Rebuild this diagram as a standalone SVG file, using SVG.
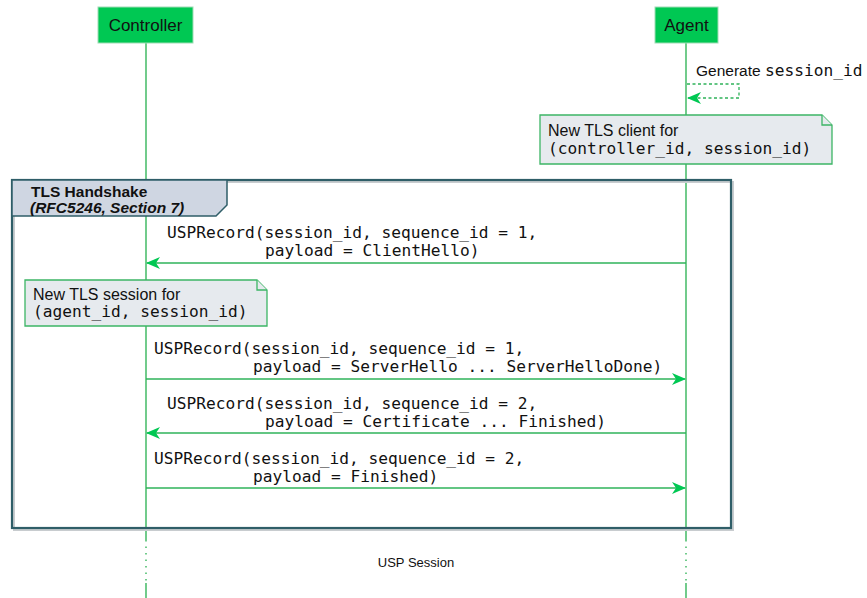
<svg xmlns="http://www.w3.org/2000/svg" width="867" height="598" viewBox="0 0 867 598">
<defs>
<style>
.sans{font-family:"Liberation Sans",Arial,sans-serif;fill:#111}
.mono{font-family:"DejaVu Sans Mono","Liberation Mono",monospace;font-size:16.2px;fill:#111}
.life{stroke:#27b04f;stroke-width:1.3;fill:none}
.msg{stroke:#2fb35a;stroke-width:1.3;fill:none}
.note{fill:#e6eaee;stroke:#3cb565;stroke-width:1.3}
.actor{fill:#00c853;stroke:#9fdcb5;stroke-width:1}
</style>
<marker id="ah" markerUnits="userSpaceOnUse" markerWidth="14" markerHeight="12" refX="13" refY="6" orient="auto">
<path d="M0,0 L14,6 L0,12 L4,6 z" fill="#00c853"/>
</marker>
</defs>
<rect width="867" height="598" fill="#fff"/>
<g id="lifelines">
<path class="life" d="M146,43 V540 M146,583 V598 M686,43 V540 M686,583 V598"/>
<path class="life" d="M146,540 V583 M686,540 V583" stroke-dasharray="1.5,5"/>
</g>
<g id="controller">
<rect class="actor" x="98" y="7" width="95" height="36"/>
<text class="sans" x="145.5" y="31" font-size="17" text-anchor="middle">Controller</text>
</g>
<g id="agent">
<rect class="actor" x="655" y="7" width="63" height="36"/>
<text class="sans" x="686.5" y="31" font-size="17" text-anchor="middle">Agent</text>
</g>
<g id="note-client">
<path class="note" d="M540,115 H822 L832,125 V164 H540 Z"/>
<path class="note" d="M822,115 V125 H832" fill="none"/>
<text class="sans" x="548" y="136" font-size="16">New TLS client for</text>
<text class="mono" x="548" y="154">(controller_id, session_id)</text>
</g>
<g id="group-tls">
<rect x="14" y="182" width="719" height="348" fill="none" stroke="#c8cccf" stroke-width="2"/>
<rect x="12" y="180" width="719" height="348" fill="none" stroke="#2f5e68" stroke-width="2.2"/>
<path d="M12,180 H227 V205 L216,216 H12 Z" fill="#cfd6e2" stroke="#2f5e68" stroke-width="1.5"/>
<text class="sans" x="31" y="197" font-size="15.5" font-weight="bold">TLS Handshake</text>
<text class="sans" x="30" y="213" font-size="15.5" font-weight="bold" font-style="italic">(RFC5246, Section 7)</text>
</g>
<g id="note-session">
<path class="note" d="M25,280 H257 L267,290 V326 H25 Z"/>
<path class="note" d="M257,280 V290 H267" fill="none"/>
<text class="sans" x="33" y="300" font-size="16">New TLS session for</text>
<text class="mono" x="33" y="317">(agent_id, session_id)</text>
</g>
<g id="connectors">
<path class="msg" d="M687,84 H739 V98 H688" stroke-dasharray="3,2.5" marker-end="url(#ah)"/>
<line class="msg" x1="686" y1="263" x2="147" y2="263" marker-end="url(#ah)"/>
<line class="msg" x1="146" y1="379" x2="685" y2="379" marker-end="url(#ah)"/>
<line class="msg" x1="686" y1="433" x2="147" y2="433" marker-end="url(#ah)"/>
<line class="msg" x1="146" y1="488" x2="685" y2="488" marker-end="url(#ah)"/>
</g>
<g id="labels">
<text x="696" y="76"><tspan class="sans" font-size="15.5">Generate </tspan><tspan class="mono">session_id</tspan></text>
<text class="mono" x="167" y="238">USPRecord(session_id, sequence_id = 1,</text>
<text class="mono" x="265" y="256">payload = ClientHello)</text>
<text class="mono" x="154" y="354">USPRecord(session_id, sequence_id = 1,</text>
<text class="mono" x="253" y="372">payload = ServerHello ... ServerHelloDone)</text>
<text class="mono" x="167" y="409">USPRecord(session_id, sequence_id = 2,</text>
<text class="mono" x="265" y="427">payload = Certificate ... Finished)</text>
<text class="mono" x="154" y="464">USPRecord(session_id, sequence_id = 2,</text>
<text class="mono" x="253" y="482">payload = Finished)</text>
<text class="sans" x="416" y="567" font-size="13" text-anchor="middle">USP Session</text>
</g>
</svg>
